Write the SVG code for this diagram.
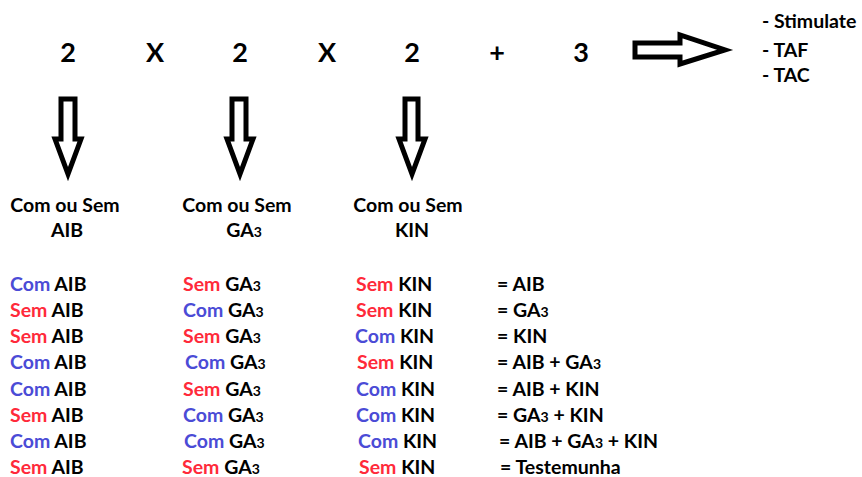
<svg xmlns="http://www.w3.org/2000/svg" width="862" height="477" viewBox="0 0 862 477">
  <defs>
    <style>
      text { font-family: "Lato", "Open Sans", "Liberation Sans", sans-serif; font-weight: 700; fill: #000; }
      .big { font-size: 27px; text-anchor: middle; }
      .lbl { font-size: 19.5px; }
      .mid { text-anchor: middle; }
      .com { fill: #4b4bd6; }
      .sem { fill: #ff2a3a; }
      .sub { font-size: 14px; }
      .arrow { fill: none; stroke: #000; stroke-width: 5; stroke-linejoin: miter; }
    </style>
  </defs>
  <rect width="862" height="477" fill="#ffffff"/>

  <!-- factor line -->
  <g id="formula">
    <text class="big" x="68" y="62">2</text>
    <text class="big" x="155" y="62">X</text>
    <text class="big" x="240" y="62">2</text>
    <text class="big" x="327" y="62">X</text>
    <text class="big" x="412" y="62">2</text>
    <text class="big" x="497" y="62">+</text>
    <text class="big" x="581" y="62">3</text>
  </g>

  <!-- outlined block arrows -->
  <g id="connectors">
    <path class="arrow" d="M61,99 H75 V139 H81 L68,174 L55,139 H61 Z"/>
    <path class="arrow" d="M232,99 H246 V139 H253 L240,174 L227,139 H232 Z"/>
    <path class="arrow" d="M405,99 H418 V139 H425 L412,174 L399,139 H405 Z"/>
    <path class="arrow" d="M635,43 H680 V35 L725,50 L680,64 V57 H635 Z"/>
  </g>

  <g id="outputs">
    <text class="lbl" x="762" y="28">- Stimulate</text>
    <text class="lbl" x="762" y="57">- TAF</text>
    <text class="lbl" x="762" y="82">- TAC</text>
  </g>

  <g id="factor-aib">
    <text class="lbl mid" x="65" y="212">Com ou Sem</text>
    <text class="lbl mid" x="67" y="237">AIB</text>
  </g>
  <g id="factor-ga3">
    <text class="lbl mid" x="237" y="212">Com ou Sem</text>
    <text class="lbl mid" x="244" y="237">GA<tspan class="sub">3</tspan></text>
  </g>
  <g id="factor-kin">
    <text class="lbl mid" x="408" y="212">Com ou Sem</text>
    <text class="lbl mid" x="412" y="237">KIN</text>
  </g>

  <!-- treatment combinations -->
  <g id="table">
    <g id="row1">
      <text class="lbl" x="10" y="291"><tspan class="com">Com</tspan> AIB</text>
      <text class="lbl" x="183" y="291"><tspan class="sem">Sem</tspan> GA<tspan class="sub">3</tspan></text>
      <text class="lbl" x="356" y="291"><tspan class="sem">Sem</tspan> KIN</text>
      <text class="lbl" x="497" y="291">= AIB</text>
    </g>
    <g id="row2">
      <text class="lbl" x="10" y="317"><tspan class="sem">Sem</tspan> AIB</text>
      <text class="lbl" x="183" y="317"><tspan class="com">Com</tspan> GA<tspan class="sub">3</tspan></text>
      <text class="lbl" x="356" y="317"><tspan class="sem">Sem</tspan> KIN</text>
      <text class="lbl" x="497" y="317">= GA<tspan class="sub">3</tspan></text>
    </g>
    <g id="row3">
      <text class="lbl" x="10" y="343"><tspan class="sem">Sem</tspan> AIB</text>
      <text class="lbl" x="183" y="343"><tspan class="sem">Sem</tspan> GA<tspan class="sub">3</tspan></text>
      <text class="lbl" x="355" y="343"><tspan class="com">Com</tspan> KIN</text>
      <text class="lbl" x="497" y="343">= KIN</text>
    </g>
    <g id="row4">
      <text class="lbl" x="10" y="369"><tspan class="com">Com</tspan> AIB</text>
      <text class="lbl" x="185" y="369"><tspan class="com">Com</tspan> GA<tspan class="sub">3</tspan></text>
      <text class="lbl" x="357" y="369"><tspan class="sem">Sem</tspan> KIN</text>
      <text class="lbl" x="497" y="369">= AIB + GA<tspan class="sub">3</tspan></text>
    </g>
    <g id="row5">
      <text class="lbl" x="10" y="396"><tspan class="com">Com</tspan> AIB</text>
      <text class="lbl" x="183" y="396"><tspan class="sem">Sem</tspan> GA<tspan class="sub">3</tspan></text>
      <text class="lbl" x="356" y="396"><tspan class="com">Com</tspan> KIN</text>
      <text class="lbl" x="497" y="396">= AIB + KIN</text>
    </g>
    <g id="row6">
      <text class="lbl" x="10" y="422"><tspan class="sem">Sem</tspan> AIB</text>
      <text class="lbl" x="183" y="422"><tspan class="com">Com</tspan> GA<tspan class="sub">3</tspan></text>
      <text class="lbl" x="356" y="422"><tspan class="com">Com</tspan> KIN</text>
      <text class="lbl" x="497" y="422">= GA<tspan class="sub">3</tspan> + KIN</text>
    </g>
    <g id="row7">
      <text class="lbl" x="10" y="448"><tspan class="com">Com</tspan> AIB</text>
      <text class="lbl" x="184" y="448"><tspan class="com">Com</tspan> GA<tspan class="sub">3</tspan></text>
      <text class="lbl" x="358" y="448"><tspan class="com">Com</tspan> KIN</text>
      <text class="lbl" x="499" y="448">= AIB + GA<tspan class="sub">3</tspan> + KIN</text>
    </g>
    <g id="row8">
      <text class="lbl" x="10" y="474"><tspan class="sem">Sem</tspan> AIB</text>
      <text class="lbl" x="182" y="474"><tspan class="sem">Sem</tspan> GA<tspan class="sub">3</tspan></text>
      <text class="lbl" x="359" y="474"><tspan class="sem">Sem</tspan> KIN</text>
      <text class="lbl" x="500" y="474">= Testemunha</text>
    </g>
  </g>
</svg>
